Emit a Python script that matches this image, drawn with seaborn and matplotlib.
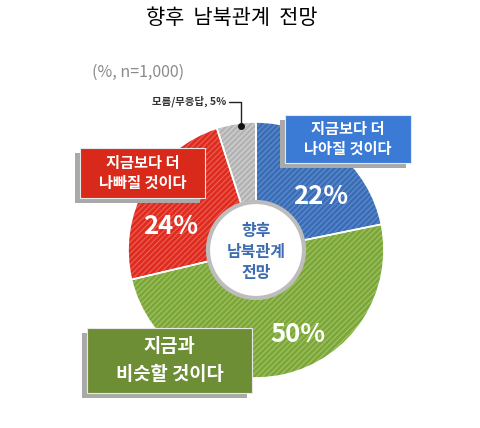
import matplotlib.pyplot as plt
import seaborn as sns
from matplotlib.patches import Circle, Rectangle

sns.set_theme(style="white")
plt.rcParams["font.family"] = ["Noto Sans CJK KR", "DejaVu Sans"]
plt.rcParams["hatch.linewidth"] = 0.9

TITLE = "향후  남북관계  전망"
NOTE = "(%, n=1,000)"
CENTER_TEXT = "향후\n남북관계\n전망"

categories = ["지금보다 더\n나아질 것이다", "지금과\n비슷할 것이다",
              "지금보다 더\n나빠질 것이다", "모름/무응답"]
shares = [22, 50, 24, 5]
pct_labels = [f"{v}%" for v in shares]

base_colors = ["#3b6db5", "#7da63a", "#de2a1f", "#b3b3b3"]
hatch_colors = ["#5b8bd0", "#9cc25e", "#ec5c50", "#d2d2d2"]
box_colors = ["#3b7bd6", "#6e8e36", "#d8291b", None]

H = 428
CX, CY, R = 256, 250, 128


def Y(y):
    return H - y


fig = plt.figure(figsize=(4.81, 4.28), dpi=100)
ax = fig.add_axes([0, 0, 1, 1])

wedges, _ = ax.pie(shares, colors=base_colors, startangle=90, counterclock=False,
                   center=(CX, Y(CY)), radius=R, wedgeprops=dict(linewidth=0))
for w, hc in zip(wedges, hatch_colors):
    w.set_hatch("//////")
    w.set_edgecolor(hc)
    w.set_linewidth(0)

# white separators between wedges
ax.pie(shares, startangle=90, counterclock=False, center=(CX, Y(CY)), radius=R,
       wedgeprops=dict(fill=False, edgecolor="white", linewidth=1.2))

# centre disc
ax.add_patch(Circle((CX, Y(CY)), 48, facecolor="white", edgecolor="#bdbdbd",
                    linewidth=3, zorder=5))
ax.text(CX, Y(CY + 2), CENTER_TEXT, ha="center", va="center", fontsize=11.5,
        fontweight="bold", color="#3d6cb0", linespacing=1.4, zorder=6)

# label boxes (x0, top, x1, bottom)
boxes = [(285, 115, 411, 163), (87, 328, 252, 393), (80, 148, 205, 198)]
box_fs = [11, 13.5, 11]
box_ls = [1.25, 1.55, 1.25]
for (x0, y0, x1, y1), col, lab, fs, ls in zip(boxes, box_colors, categories,
                                             box_fs, box_ls):
    w, h = x1 - x0, y1 - y0
    ax.add_patch(Rectangle((x0 - 5, Y(y1) - 5), w, h, facecolor="#a9a9a9",
                           edgecolor="none", zorder=7))
    ax.add_patch(Rectangle((x0, Y(y1)), w, h, facecolor=col, edgecolor="#e8e8e8",
                           linewidth=0.8, zorder=8))
    ax.text((x0 + x1) / 2, Y((y0 + y1) / 2), lab, ha="center", va="center",
            fontsize=fs, fontweight="bold", color="white", linespacing=ls,
            zorder=9)

# percentage labels
pct_pos = [(321, 197), (298, 335), (171, 227)]
for (px, py), txt in zip(pct_pos, pct_labels[:3]):
    ax.text(px, Y(py), txt, ha="center", va="center", fontsize=18.5,
            fontweight="bold", color="white", zorder=6)

# "don't know" callout
ax.text(226, Y(101), f"{categories[3]}, {pct_labels[3]}", ha="right", va="center",
        fontsize=7.5, fontweight="bold", color="#333333", zorder=6)
ax.plot([229, 241, 241], [Y(102), Y(102), Y(126)], color="#222222", lw=1, zorder=6)
ax.plot([241], [Y(126)], "o", color="#111111", ms=4, zorder=6)

ax.text(232, Y(18), TITLE, ha="center", va="center", fontsize=15, color="black")
ax.text(92, Y(72), NOTE, ha="left", va="center", fontsize=11.5, color="#8a8a8a")

ax.set_xlim(0, 481)
ax.set_ylim(0, H)
ax.set_aspect("equal")
ax.axis("off")

fig.savefig("out.png", dpi=100)
